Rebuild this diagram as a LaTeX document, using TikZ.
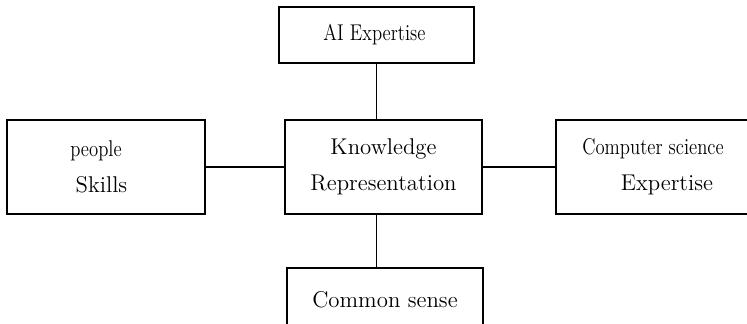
\documentclass[tikz,border=0pt]{standalone}
\usepackage{graphicx}
\newcommand{\cond}[1]{\scalebox{0.82}[1]{#1}}
\begin{document}
\begin{tikzpicture}[x=0.5pt,y=-0.5pt,
  box/.style={draw, line width=0.7pt, inner sep=0pt, align=center,
    font=\fontsize{11.4}{18}\selectfont},
  link/.style={line width=0.7pt}]
\useasboundingbox (0,0) rectangle (747,323);
\clip (0,0) rectangle (747,323);
\node[box, minimum width=97.5pt, minimum height=28pt] (ai) at (376.5,35) {\cond{AI Expertise}\hspace*{2pt}};
\node[box, minimum width=98.5pt, minimum height=47pt] (kr) at (383.5,167) {Knowledge\\Representation};
\node[box, minimum width=99pt, minimum height=47pt] (ps) at (106,167) {\cond{people}\hspace*{10pt}\\Skills\hspace*{4.5pt}};
\node[box, minimum width=102pt, minimum height=47pt] (cse) at (658,167) {\cond{Computer science}\hspace*{5pt}\\\hspace*{9pt}Expertise};
\node[box, minimum width=98pt, minimum height=32pt] (cs) at (385,300) {Common sense};
\draw[link] (ai.south) -- (ai.south |- kr.north);
\draw[link] (kr.south -| ai.south) -- (ai.south |- cs.north);
\draw[link] (ps.east) -- (kr.west);
\draw[link] (kr.east) -- (cse.west);
\end{tikzpicture}
\end{document}
